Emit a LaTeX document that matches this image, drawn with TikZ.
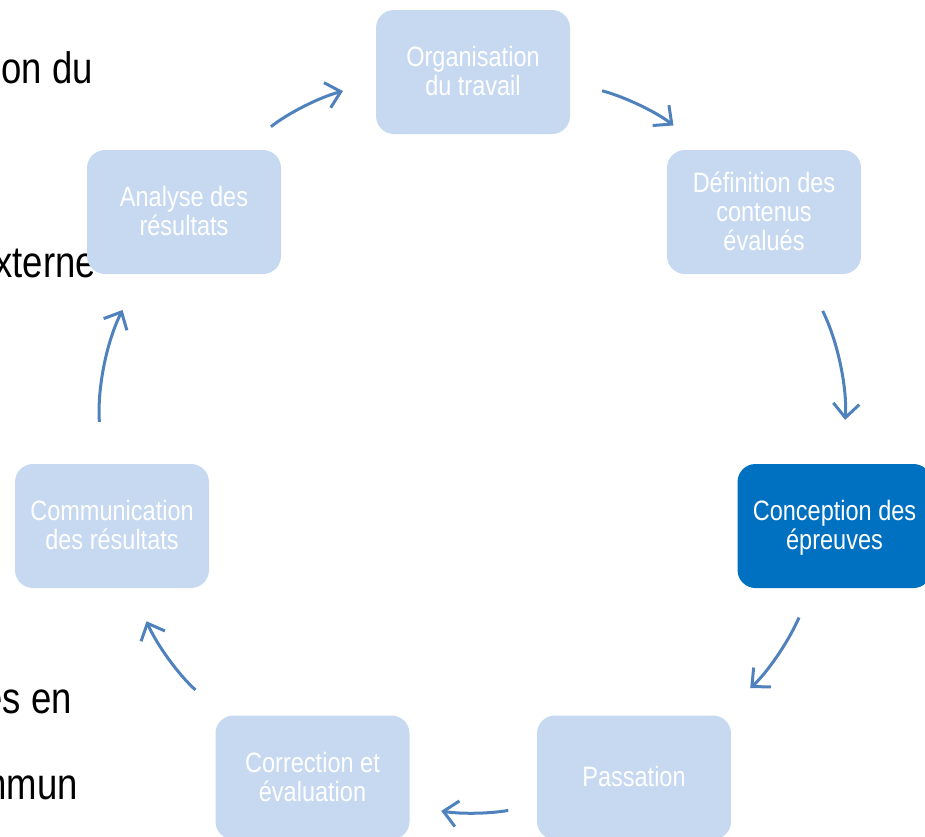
\documentclass[tikz,border=0pt]{standalone}
\usepackage{graphicx}
\usepackage{fontspec}
\setmainfont{Liberation Sans}
\usetikzlibrary{arrows.meta}
\definecolor{stagefill}{HTML}{C6D9F1}
\definecolor{stagedark}{HTML}{0070C0}
\definecolor{cyclearrow}{HTML}{4F81BD}
\newcommand{\boxlines}[1]{\raisebox{0pt}[\dimexpr\height+7pt\relax]{\scalebox{0.84}[1]{\begin{tabular}{@{}c@{}}#1\end{tabular}}}}
\newcommand{\bgline}[1]{\scalebox{0.83}[1]{#1}}
\tikzset{
  stage/.style={rectangle, rounded corners=18pt, fill=stagefill, text=white,
    minimum width=194pt, minimum height=124pt, inner sep=0pt,
    font=\fontsize{28}{29}\selectfont},
  current/.style={stage, fill=stagedark},
  behind/.style={anchor=base east, inner sep=0pt, font=\fontsize{44}{48}\selectfont},
  turn/.style={draw=cyclearrow, line width=3pt, -{Straight Barb[length=14pt,width=26pt]}}
}
\begin{document}
\begin{tikzpicture}[x=1pt, y=-1pt]
                    \useasboundingbox (0,0) rectangle (925,836);
                    \node[behind] (t1) at (93,83) {\bgline{on du}};
                    \node[behind] (t2) at (96,277) {\bgline{xterne}};
                    \node[behind] (t3) at (72,713) {\bgline{es en}};
                    \node[behind] (t4) at (78,799) {\bgline{mmun}};

                    \node[stage] (org) at (473,72) {\boxlines{Organisation\\du travail}};
                    \node[stage] (def) at (764,212) {\boxlines{Définition des\\contenus\\évalués}};
                    \node[current] (con) at (834.5,526) {\boxlines{Conception des\\épreuves}};
                    \node[stage] (pas) at (634,777.5) {\boxlines{Passation}};
                    \node[stage] (cor) at (312.5,777.5) {\boxlines{Correction et\\évaluation}};
                    \node[stage] (com) at (112,526) {\boxlines{Communication\\des résultats}};
                    \node[stage] (ana) at (184,212) {\boxlines{Analyse des\\résultats}};

                    \draw[turn, shorten <=37pt, shorten >=34pt] (ana.47) to[bend left=11.8] (org.186);
                    \draw[turn, shorten <=33pt, shorten >=39pt] (org.-6) to[bend left=11.8] (def.134);
                    \draw[turn, shorten <=41pt, shorten >=44pt] (def.-57) to[bend left=15.2] (con.83);
                    \draw[turn, shorten <=32pt, shorten >=41pt] (con.-110) to[bend left=12.3] (pas.36);
                    \draw[turn, shorten <=29pt, shorten >=32pt] (pas.196) to[bend left=10] (cor.-16);
                    \draw[turn, shorten <=38pt, shorten >=36pt] (cor.145) to[bend left=12.3] (com.-72);
                    \draw[turn, shorten <=42pt, shorten >=40pt] (com.99) to[bend left=15.2] (ana.-125);
                \end{tikzpicture}
\end{document}
